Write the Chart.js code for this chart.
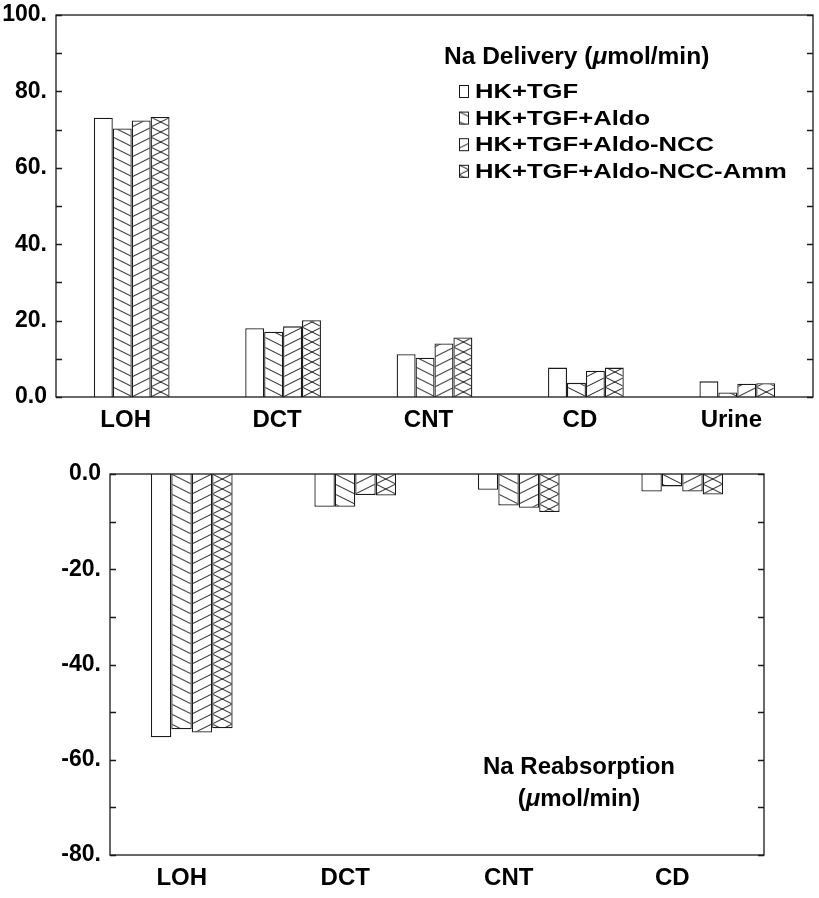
<!DOCTYPE html>
<html>
<head>
<meta charset="utf-8">
<script src="https://cdn.jsdelivr.net/npm/chart.js@4.4.1/dist/chart.umd.min.js"></script>
<style>
    html, body { margin: 0; padding: 0; background: #fff; }
    .panel { position: absolute; left: 0; width: 819px; }
    #deliveryBox { top: 0; height: 440px; }
    #reabsBox { top: 440px; height: 458px; }
</style>
</head>
<body>
<div class="panel" id="deliveryBox"><canvas id="deliveryChart" width="819" height="440"></canvas></div>
<div class="panel" id="reabsBox"><canvas id="reabsChart" width="819" height="458"></canvas></div>
<script>
// Data
const seriesLabels = ['HK+TGF', 'HK+TGF+Aldo', 'HK+TGF+Aldo-NCC', 'HK+TGF+Aldo-NCC-Amm'];

const deliveryCategories = ['LOH', 'DCT', 'CNT', 'CD', 'Urine'];
const deliveryHkTgf = [73.1, 18.0, 11.2, 7.7, 4.1];
const deliveryAldo = [70.3, 17.1, 10.3, 3.7, 1.2];
const deliveryAldoNcc = [72.4, 18.5, 14.0, 6.9, 3.5];
const deliveryAldoNccAmm = [73.3, 20.1, 15.6, 7.7, 3.6];

const reabsCategories = ['LOH', 'DCT', 'CNT', 'CD'];
const reabsHkTgf = [-55.3, -6.9, -3.3, -3.7];
const reabsAldo = [-53.6, -6.9, -6.6, -2.6];
const reabsAldoNcc = [-54.3, -4.4, -7.1, -3.7];
const reabsAldoNccAmm = [-53.4, -4.5, -8.0, -4.3];

const deliveryTitle = ['Na Delivery (', '\u03bc', 'mol/min)'];
const reabsTitle1 = 'Na Reabsorption';
const reabsTitle2 = ['(', '\u03bc', 'mol/min)'];

const FONT = '"Liberation Sans", Arial, Helvetica, sans-serif';
const INK = '#1a1a1a';
const hatchKinds = ['none', 'back', 'fwd', 'cross'];

// Hatch tiles: 20x10, lines of slope 1/2
function makeTile(kind) {
    const tile = document.createElement('canvas');
    tile.width = 20;
    tile.height = 10;
    const c = tile.getContext('2d');
    c.fillStyle = '#fff';
    c.fillRect(0, 0, 20, 10);
    c.strokeStyle = INK;
    c.lineWidth = 1;
    c.beginPath();
    if (kind === 'back' || kind === 'cross') {
        [-10, 0, 10].forEach(o => { c.moveTo(0, o); c.lineTo(20, o + 10); });
    }
    if (kind === 'fwd' || kind === 'cross') {
        [-10, 0, 10].forEach(o => { c.moveTo(0, o + 10); c.lineTo(20, o); });
    }
    c.stroke();
    return tile;
}

const tiles = hatchKinds.map(makeTile);
const patCtx = document.createElement('canvas').getContext('2d');

// pattern anchored at (x0, y0) so each bar starts its hatch at its own edge
function hatchAt(i, x0, y0) {
    if (i === 0) return '#ffffff';
    const p = patCtx.createPattern(tiles[i], 'repeat');
    p.setTransform(new DOMMatrix([1, 0, 0, 1, x0, y0]));
    return p;
}

function barFill(ctx) {
    const i = ctx.datasetIndex;
    const chart = ctx.chart;
    const xs = chart.scales.x, ys = chart.scales.y;
    if (ctx.type !== 'data' || !xs || !ys) return hatchAt(i, 0, 0);
    const cat = (xs.right - xs.left) / chart.data.labels.length;
    const group = cat * 0.5;
    const left = xs.getPixelForValue(ctx.dataIndex) - group / 2 + i * group / 4;
    return hatchAt(i, left, ys.getPixelForValue(0));
}

function buildDatasets(values) {
    return values.map((v, i) => ({
        label: seriesLabels[i],
        data: v,
        backgroundColor: barFill,
        borderColor: INK,
        borderWidth: 1.3,
        categoryPercentage: 0.5,
        barPercentage: 1.0
    }));
}

// Draw title pieces, middle piece italic (the mu)
function drawMixed(ctx, parts, x, y, size, align) {
    const fonts = ['bold ' + size + 'px ' + FONT, 'italic bold ' + size + 'px ' + FONT, 'bold ' + size + 'px ' + FONT];
    let widths = parts.map((p, i) => { ctx.font = fonts[i]; return ctx.measureText(p).width; });
    let total = widths.reduce((a, b) => a + b, 0);
    let cx = align === 'center' ? x - total / 2 : x;
    ctx.textAlign = 'left';
    ctx.textBaseline = 'alphabetic';
    parts.forEach((p, i) => {
        ctx.font = fonts[i];
        ctx.fillText(p, cx, y);
        cx += widths[i];
    });
}

// Frame plus inward ticks on both sides, every 10 units
const framePlugin = {
    id: 'frame',
    afterDatasetsDraw(chart) {
        const { ctx, chartArea } = chart;
        const y = chart.scales.y;
        ctx.save();
        ctx.strokeStyle = INK;
        ctx.lineWidth = 1.3;
        ctx.strokeRect(chartArea.left, chartArea.top, chartArea.right - chartArea.left, chartArea.bottom - chartArea.top);
        ctx.beginPath();
        for (let v = y.min; v <= y.max; v += 10) {
            const py = Math.round(y.getPixelForValue(v)) + 0.5;
            ctx.moveTo(chartArea.left, py);
            ctx.lineTo(chartArea.left + 6, py);
            ctx.moveTo(chartArea.right, py);
            ctx.lineTo(chartArea.right - 6, py);
        }
        ctx.stroke();
        ctx.restore();
    }
};

const deliveryLegend = {
    id: 'deliveryLegend',
    afterDraw(chart) {
        const ctx = chart.ctx;
        ctx.save();
        ctx.fillStyle = '#000';
        drawMixed(ctx, deliveryTitle, 444, 64, 24.5, 'left');
        chart.data.datasets.forEach((ds, i) => {
            const base = 98 + i * 26.6;
            ctx.fillStyle = hatchAt(i, 459, base - 13);
            ctx.fillRect(459, base - 13, 9, 13);
            ctx.strokeStyle = INK;
            ctx.lineWidth = 1;
            ctx.strokeRect(459.5, base - 12.5, 9, 12);
            ctx.fillStyle = '#000';
            ctx.font = 'bold 21px ' + FONT;
            ctx.textAlign = 'left';
            ctx.textBaseline = 'alphabetic';
            ctx.translate(475, base);
            ctx.scale(1.22, 1);
            ctx.fillText(ds.label, 0, 0);
            ctx.setTransform(1, 0, 0, 1, 0, 0);
        });
        ctx.restore();
    }
};

const reabsNote = {
    id: 'reabsNote',
    afterDraw(chart) {
        const ctx = chart.ctx;
        ctx.save();
        ctx.fillStyle = '#000';
        ctx.font = 'bold 24px ' + FONT;
        ctx.textAlign = 'center';
        ctx.textBaseline = 'alphabetic';
        ctx.fillText(reabsTitle1, 579, 334);
        drawMixed(ctx, reabsTitle2, 579, 366, 24, 'center');
        ctx.restore();
    }
};

function makeOptions(yMin, yMax, yWidth, pad, labelShift) {
    return {
        responsive: false,
        animation: false,
        devicePixelRatio: 1,
        layout: { padding: pad },
        plugins: { legend: { display: false }, tooltip: { enabled: false } },
        scales: {
            x: {
                grid: { display: false, drawTicks: false },
                border: { display: false },
                ticks: { color: '#000', padding: 9, labelOffset: labelShift, font: { family: FONT, size: 24, weight: 'bold' } },
                afterFit(scale) {
                    scale.height = 43;
                    scale.paddingLeft = 0;
                    scale.paddingRight = 0;
                }
            },
            y: {
                min: yMin,
                max: yMax,
                grid: { display: false, drawTicks: false },
                border: { display: false },
                ticks: {
                    stepSize: 20,
                    color: '#000',
                    padding: 9,
                    font: { family: FONT, size: 23, weight: 'bold' },
                    callback: v => (v === 0 ? '0.0' : v + '.')
                },
                afterFit(scale) {
                    scale.width = yWidth;
                    scale.paddingTop = 0;
                    scale.paddingBottom = 0;
                }
            }
        }
    };
}

new Chart(document.getElementById('deliveryChart'), {
    type: 'bar',
    data: {
        labels: deliveryCategories,
        datasets: buildDatasets([deliveryHkTgf, deliveryAldo, deliveryAldoNcc, deliveryAldoNccAmm])
    },
    options: makeOptions(0, 100, 56, { top: 15, right: 6, left: 0, bottom: 0 }, -6),
    plugins: [framePlugin, deliveryLegend]
});

new Chart(document.getElementById('reabsChart'), {
    type: 'bar',
    data: {
        labels: reabsCategories,
        datasets: buildDatasets([reabsHkTgf, reabsAldo, reabsAldoNcc, reabsAldoNccAmm])
    },
    options: makeOptions(-80, 0, 110, { top: 34, right: 55, left: 0, bottom: 0 }, -10),
    plugins: [framePlugin, reabsNote]
});
</script>
</body>
</html>
